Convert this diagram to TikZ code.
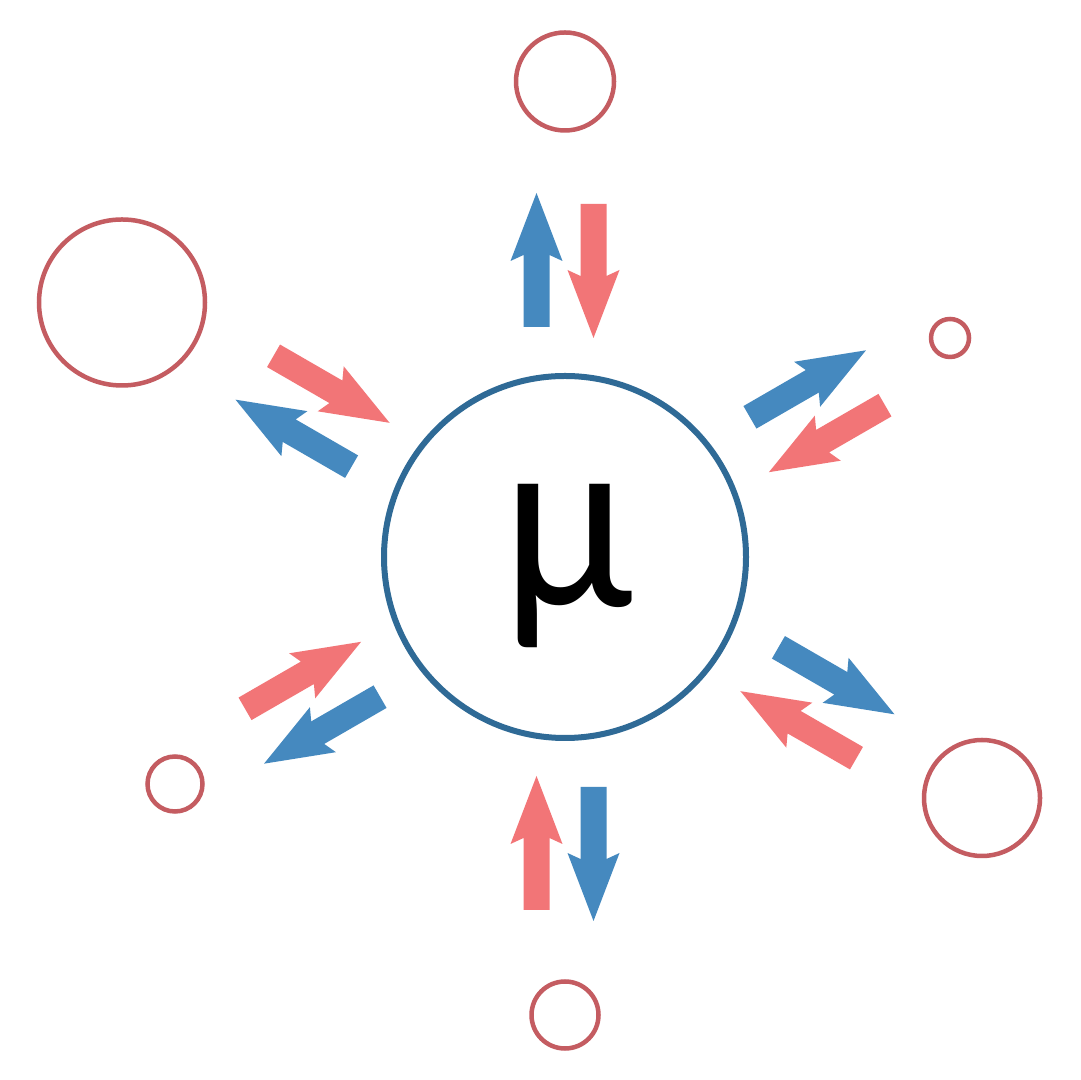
\documentclass[tikz,border=0pt]{standalone}
\usepackage{fontspec}
\usepackage{graphicx}
\newfontfamily\mufont{Carlito}
\definecolor{arrblue}{HTML}{4589BF}
\definecolor{arrred}{HTML}{F27577}
\definecolor{hubblue}{HTML}{2F6A96}
\definecolor{ringred}{HTML}{C45C61}
\begin{document}
\begin{tikzpicture}[x=0.5pt,y=0.5pt,
  ring/.style={circle,draw=ringred,line width=2.25pt,inner sep=0pt,minimum size=#1},
  hub/.style={circle,draw=hubblue,line width=3pt,inner sep=0pt,minimum size=181pt},
  outarrow/.pic={\fill[arrblue] (230,15.5) -- (302,15.5) -- (296,2.5) -- (364,28.5)
      -- (296,54.5) -- (302,41.5) -- (230,41.5) -- cycle;},
  inarrow/.pic={\fill[arrred] (353,-41.5) -- (281,-41.5) -- (287,-54.5) -- (219,-28.5)
      -- (287,-2.5) -- (281,-15.5) -- (353,-15.5) -- cycle;}]
\useasboundingbox (0,0) rectangle (1080,1080);
\fill[white] (0,0) rectangle (1080,1080);
\coordinate (C) at (565,523);
\node[hub] (hubc) at (C) {};
\node[anchor=base,inner sep=0pt,font=\mufont\fontsize{128}{128}\selectfont] (mu) at (567.5,473) {\scalebox{0.93}[1]{μ}};
\node[ring=49pt] (rt) at (565,998.5) {};
\node[ring=83pt] (rtl) at (122,777.5) {};
\node[ring=19pt] (rtr) at (950,742) {};
\node[ring=27.5pt] (rbl) at (175,296) {};
\node[ring=58pt] (rbr) at (982,282) {};
\node[ring=33.5pt] (rb) at (565,65) {};
\foreach \a in {90,30,-30,-90,-150,150}{
  \pic[rotate=\a] at (C) {outarrow};
  \pic[rotate=\a] at (C) {inarrow};
}
\end{tikzpicture}
\end{document}
